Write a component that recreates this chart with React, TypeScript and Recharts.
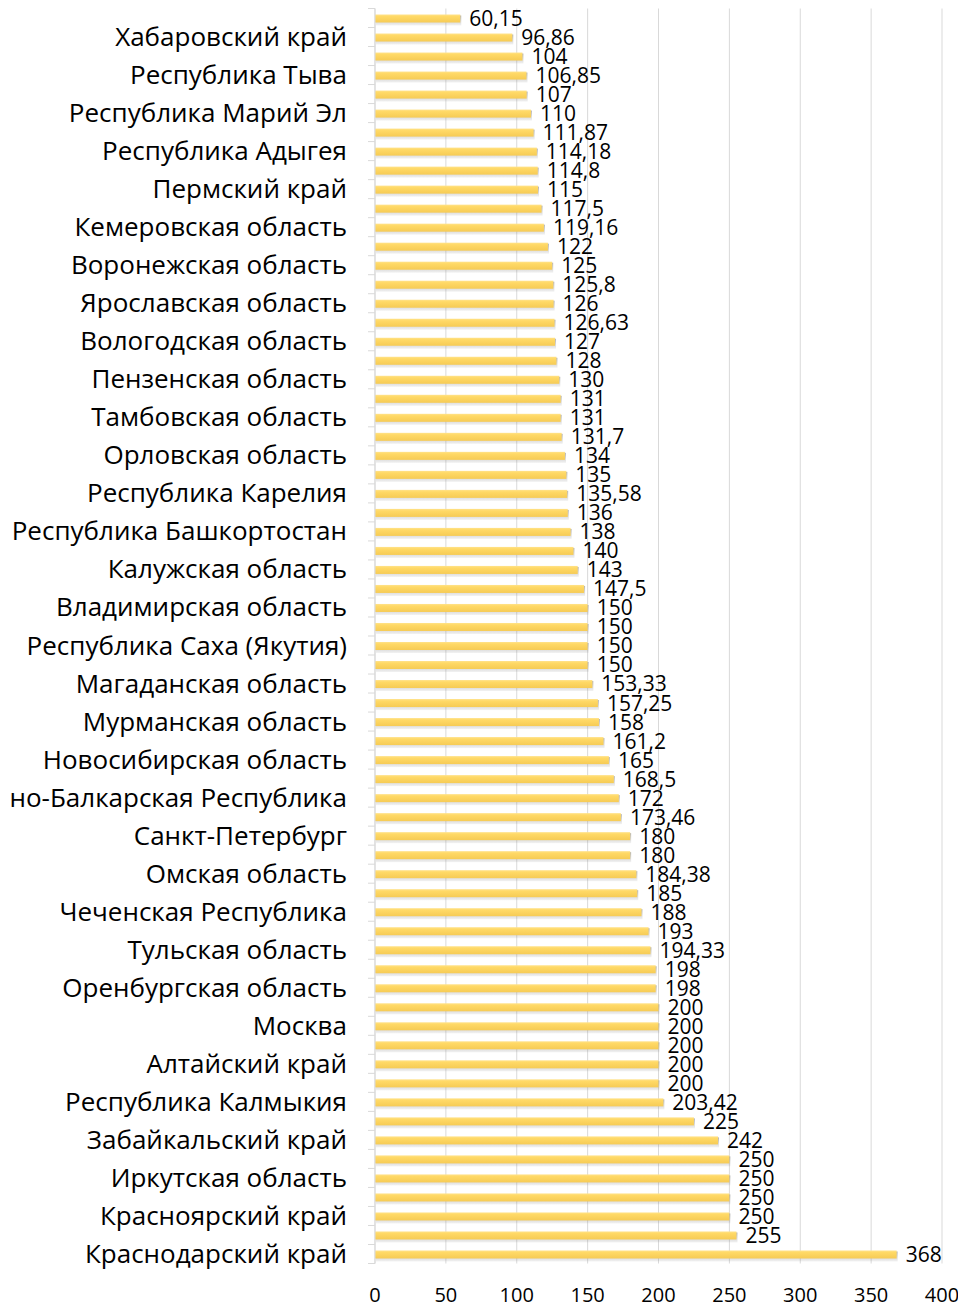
import React from 'react';
import { BarChart, Bar, XAxis, YAxis, CartesianGrid, LabelList } from 'recharts';

const values: number[] = [
  60.15, 96.86, 104, 106.85, 107, 110, 111.87, 114.18, 114.8, 115,
  117.5, 119.16, 122, 125, 125.8, 126, 126.63, 127, 128, 130,
  131, 131, 131.7, 134, 135, 135.58, 136, 138, 140, 143,
  147.5, 150, 150, 150, 150, 153.33, 157.25, 158, 161.2, 165,
  168.5, 172, 173.46, 180, 180, 184.38, 185, 188, 193, 194.33,
  198, 198, 200, 200, 200, 200, 200, 203.42, 225, 242,
  250, 250, 250, 250, 255, 368,
];

// Only every second category is labelled on the axis (the odd rows, 0-based)
const labels: string[] = [
  'Хабаровский край',
  'Республика Тыва',
  'Республика Марий Эл',
  'Республика Адыгея',
  'Пермский край',
  'Кемеровская область',
  'Воронежская область',
  'Ярославская область',
  'Вологодская область',
  'Пензенская область',
  'Тамбовская область',
  'Орловская область',
  'Республика Карелия',
  'Республика Башкортостан',
  'Калужская область',
  'Владимирская область',
  'Республика Саха (Якутия)',
  'Магаданская область',
  'Мурманская область',
  'Новосибирская область',
  'Кабардино-Балкарская Республика',
  'Санкт-Петербург',
  'Омская область',
  'Чеченская Республика',
  'Тульская область',
  'Оренбургская область',
  'Москва',
  'Алтайский край',
  'Республика Калмыкия',
  'Забайкальский край',
  'Иркутская область',
  'Красноярский край',
  'Краснодарский край',
];

const xTicks: number[] = [0, 50, 100, 150, 200, 250, 300, 350, 400];

const data = values.map((v, i) => ({
  key: `c${i}`,
  name: i % 2 === 1 ? labels[(i - 1) / 2] : '',
  value: v,
}));

const FONT = "'Open Sans', 'Noto Sans', sans-serif";
const TICK_SIZE = 7;
const TICK_MARGIN = 21;

const CategoryTick = (props: any) => {
  const { x, y, payload, index } = props;
  const idx = payload?.index ?? index;
  const half = payload?.offset ?? 9.5;
  const lx1 = x + TICK_MARGIN;
  const lx2 = lx1 + TICK_SIZE;
  const name = data[idx]?.name ?? '';
  return (
    <g>
      <line x1={lx1} x2={lx2} y1={y - half} y2={y - half} stroke="#D9D9D9" strokeWidth={1} />
      {idx === data.length - 1 && (
        <line x1={lx1} x2={lx2} y1={y + half} y2={y + half} stroke="#D9D9D9" strokeWidth={1} />
      )}
      {name && (
        <text x={x} y={y} dy={9} textAnchor="end" fill="#000" fontSize={26} fontFamily={FONT}>
          {name}
        </text>
      )}
    </g>
  );
};

const BarShape = (props: any) => {
  const { x, y, width, height } = props;
  if (!width || width <= 0) return null;
  return (
    <g>
      <rect x={x + 1} y={y + 1} width={width} height={height + 2} fill="url(#shadowGrad)" />
      <rect x={x} y={y} width={width} height={height} fill="url(#barGrad)" />
    </g>
  );
};

const fmt = (v: any) => String(v).replace('.', ',');

export default function App() {
  return (
    <div style={{ margin: -8, width: 966, height: 1311, background: '#fff' }}>
      <BarChart
        width={966}
        height={1311}
        data={data}
        layout="vertical"
        margin={{ top: 8.5, right: 24, bottom: 0, left: 0 }}
        barCategoryGap={0}
      >
        <defs>
          <linearGradient id="barGrad" x1="0" y1="0" x2="0" y2="1">
            <stop offset="0%" stopColor="#FFE28A" />
            <stop offset="25%" stopColor="#FFD966" />
            <stop offset="100%" stopColor="#F6CB55" />
          </linearGradient>
          <linearGradient id="shadowGrad" x1="0" y1="0" x2="0" y2="1">
            <stop offset="0%" stopColor="#808080" stopOpacity={0.6} />
            <stop offset="100%" stopColor="#808080" stopOpacity={0.1} />
          </linearGradient>
        </defs>
        <CartesianGrid horizontal={false} stroke="#D9D9D9" />
        <XAxis
          type="number"
          domain={[0, 400]}
          ticks={xTicks}
          axisLine={false}
          tickLine={false}
          height={47.5}
          tickMargin={18}
          tick={{ fill: '#000', fontSize: 20, fontFamily: FONT }}
        />
        <YAxis
          type="category"
          dataKey="key"
          width={375}
          interval={0}
          tickSize={TICK_SIZE}
          tickMargin={TICK_MARGIN}
          tickLine={false}
          axisLine={{ stroke: '#D9D9D9' }}
          tick={<CategoryTick />}
        />
        <Bar dataKey="value" barSize={8} isAnimationActive={false} shape={<BarShape />}>
          <LabelList
            dataKey="value"
            position="right"
            offset={9}
            formatter={fmt}
            style={{ fill: '#000', fontSize: 21, fontFamily: FONT }}
          />
        </Bar>
      </BarChart>
    </div>
  );
}
